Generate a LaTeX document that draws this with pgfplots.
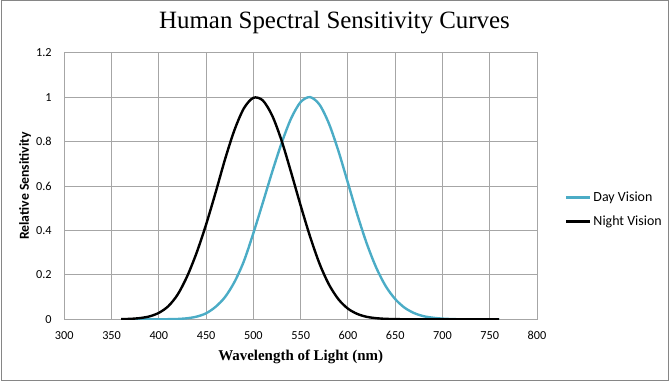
\documentclass[border=0pt]{standalone}
\usepackage{fontspec}
\setmainfont{Carlito}
\newfontfamily\seriffont{Liberation Serif}
\usepackage{pgfplots}
\pgfplotsset{compat=1.18}
\definecolor{dayc}{HTML}{4BACC6}
\definecolor{gridc}{HTML}{A6A6A6}
\definecolor{borderc}{HTML}{868686}
\pgfplotstableread{
x y
360 0
370 0
380 0
390 0
400 0.000
410 0.0005
420 0.0015
430 0.0047
440 0.012
450 0.027
460 0.056
470 0.100
480 0.168
490 0.262
500 0.388
510 0.525
520 0.665
530 0.795
540 0.905
550 0.978
560 1.000
570 0.966
580 0.880
590 0.757
600 0.614
610 0.470
620 0.340
630 0.232
640 0.149
650 0.091
660 0.052
670 0.028
680 0.014
690 0.007
700 0.003
710 0.001
720 0
730 0
740 0
750 0
760 0
}\daydata
\pgfplotstableread{
x y
360 0.001
370 0.002
380 0.0055
390 0.013
400 0.029
410 0.059
420 0.112
430 0.194
440 0.300
450 0.427
460 0.570
470 0.720
480 0.852
490 0.950
500 0.997
510 0.985
520 0.916
530 0.802
540 0.660
550 0.512
560 0.372
570 0.250
580 0.156
590 0.090
600 0.048
610 0.024
620 0.011
630 0.005
640 0.002
650 0.001
660 0
670 0
680 0
690 0
700 0
710 0
720 0
730 0
740 0
750 0
760 0
}\nightdata
\begin{document}
\begin{tikzpicture}
\useasboundingbox (0bp,0bp) rectangle (669bp,381bp);
\draw[borderc, line width=1bp] (1bp,1bp) rectangle (668bp,380bp);
\node[font=\seriffont\fontsize{25}{29}\selectfont] at (334.5bp,358bp) {Human Spectral Sensitivity Curves};
\begin{axis}[
  at={(64.3bp,61.7bp)}, anchor=south west,
  scale only axis, width=472.7bp, height=266.6bp,
  xmin=300, xmax=800, ymin=0, ymax=1.2,
  xtick={300,350,400,450,500,550,600,650,700,750,800},
  ytick={0,0.2,0.4,0.6,0.8,1,1.2},
  yticklabels={0,0.2,0.4,0.6,0.8,1,1.2},
  xticklabels={300,350,400,450,500,550,600,650,700,750,800},
  grid=major,
  major grid style={gridc, line width=0.9bp},
  axis line style={gridc, line width=0.9bp},
  major tick length=0pt,
  /pgf/number format/assume math mode=true,
  ticklabel style={font=\fontsize{12.3}{14}\selectfont, inner sep=0pt},
  xticklabel style={yshift=-12bp},
  yticklabel style={xshift=-12.5bp},
  xlabel={Wavelength of Light (nm)},
  xlabel style={font=\seriffont\bfseries\fontsize{15}{17}\selectfont, at={(axis description cs:0.5,-0.1425)}, anchor=center},
  ylabel={Relative Sensitivity},
  ylabel style={font=\bfseries\fontsize{13.8}{15}\selectfont, at={(axis description cs:-0.083,0.5)}, anchor=center},
  legend style={draw=none, fill=none, at={(axis description cs:1.059,0.412)}, anchor=west, font=\fontsize{14}{16}\selectfont, row sep=9bp, inner sep=0pt},
  legend cell align=left,
  legend image code/.code={\draw[#1] (0bp,0bp) -- (24bp,0bp);},
]
\addplot[dayc, line width=2.4bp, smooth] table[x=x,y=y] {\daydata};
\addlegendentry{Day Vision}
\addplot[black, line width=2.4bp, smooth] table[x=x,y=y] {\nightdata};
\addlegendentry{Night Vision}
\end{axis}
\end{tikzpicture}
\end{document}
